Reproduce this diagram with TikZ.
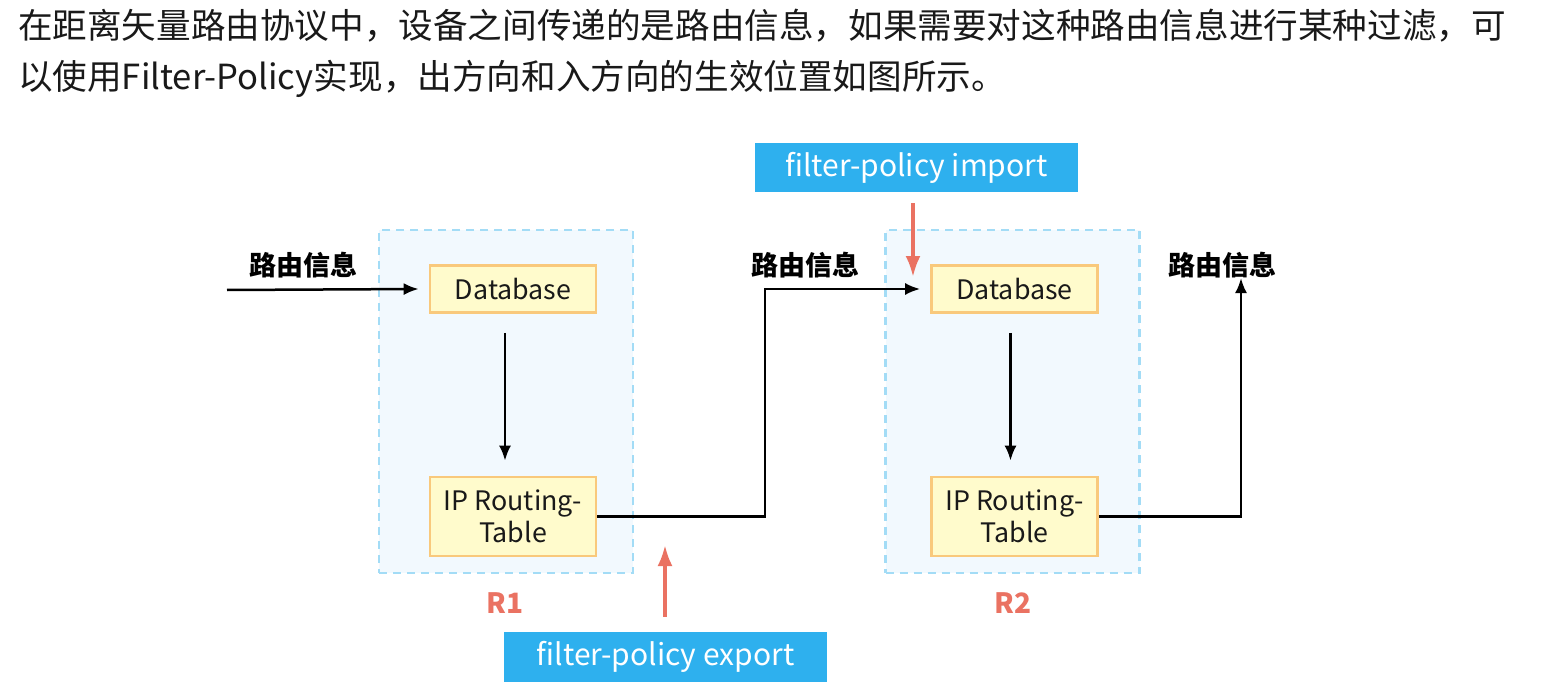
\documentclass[tikz,border=0pt]{standalone}
\usepackage{fontspec}
\setmainfont{Noto Sans CJK SC}
\usetikzlibrary{arrows.meta}
\definecolor{routerfill}{HTML}{F2F9FE}
\definecolor{routerline}{HTML}{A3DCF6}
\definecolor{dbfill}{HTML}{FFFBCC}
\definecolor{dbline}{HTML}{F9C97C}
\definecolor{redarr}{HTML}{EA7262}
\definecolor{labblue}{HTML}{2EB0EE}
\tikzset{
  routerbox/.style={draw=routerline, fill=routerfill, line width=2.2pt, dash pattern=on 8pt off 6pt, minimum width=254pt, minimum height=343pt, inner sep=0pt},
  dbbox/.style={draw=dbline, fill=dbfill, line width=2.6pt, minimum width=166pt, inner sep=0pt, align=center, font=\fontsize{26.8}{32}\selectfont, text=black!90},
  flowarrow/.style={line width=2.5pt, -{Latex[length=15pt,width=12pt]}},
  redarrow/.style={draw=redarr, line width=3.5pt, -{Latex[length=21pt,width=15pt]}},
  policybox/.style={fill=labblue, text=white, minimum width=323pt, minimum height=49pt, inner sep=0pt, font=\fontsize{30}{36}\selectfont},
  cnlabel/.style={font=\fontsize{27}{32}\selectfont\bfseries, text=black},
  rlabel/.style={font=\fontsize{28}{32}\selectfont\bfseries, text=redarr},
  toptext/.style={anchor=west, inner sep=0pt, font=\fontsize{34.6}{40}\selectfont, text=black!90}
}
\begin{document}
\begin{tikzpicture}[x=1pt,y=-1pt]
\useasboundingbox (0,0) rectangle (1548,690);
% top text
\node[toptext] (line1) at (18,26) {在距离矢量路由协议中，设备之间传递的是路由信息，如果需要对这种路由信息进行某种过滤，可};
\node[toptext] (line2) at (18,79) {以使用Filter-Policy实现，出方向和入方向的生效位置如图所示。};
% routers
\node[routerbox] (r1box) at (506,401.5) {};
\node[routerbox] (r2box) at (1012.5,401.5) {};
\node[dbbox, minimum height=47pt] (db1) at (513,289) {Database};
\node[dbbox, minimum height=79pt] (ip1) at (513,516.5) {IP Routing-\\Table};
\node[dbbox, minimum height=47pt] (db2) at (1014.5,289) {Database};
\node[dbbox, minimum height=79pt] (ip2) at (1014.5,516.5) {IP Routing-\\Table};
\node[rlabel] (r1lab) at (505,603) {R1};
\node[rlabel] (r2lab) at (1013,603) {R2};
% labels
\node[cnlabel] (inlab) at (303,265) {路由信息};
\node[cnlabel] (midlab) at (805,265) {路由信息};
\node[cnlabel] (outlab) at (1222,265) {路由信息};
% policy boxes
\node[policybox] (imp) at (916.5,167.5) {filter-policy import};
\node[policybox, minimum height=50pt] (exp) at (665.5,657) {filter-policy export};
% coordinates
\coordinate (in1) at (227,290);
\coordinate (bend1) at (765,289);
\coordinate (out2) at (1241,278);
\coordinate (impe) at (913,277);
\coordinate (expe) at (665,545);
% flows
\draw[flowarrow] (in1) -- ([xshift=-10pt]db1.west);
\draw[flowarrow, shorten <=19pt, shorten >=15pt] ([xshift=-8pt]db1.south) -- ([xshift=-8pt]ip1.north);
\draw[flowarrow, shorten <=19pt, shorten >=15pt] ([xshift=-4pt]db2.south) -- ([xshift=-4pt]ip2.north);
\draw[flowarrow] (ip1.east) -| (bend1) -- ([xshift=-10pt]db2.west);
\draw[flowarrow] (ip2.east) -| (out2);
% policy arrows
\draw[redarrow] ([shift={(-3.5,11)}]imp.south) -- (impe);
\draw[redarrow] ([shift={(-0.5,-15)}]exp.north) -- (expe);
\end{tikzpicture}
\end{document}
